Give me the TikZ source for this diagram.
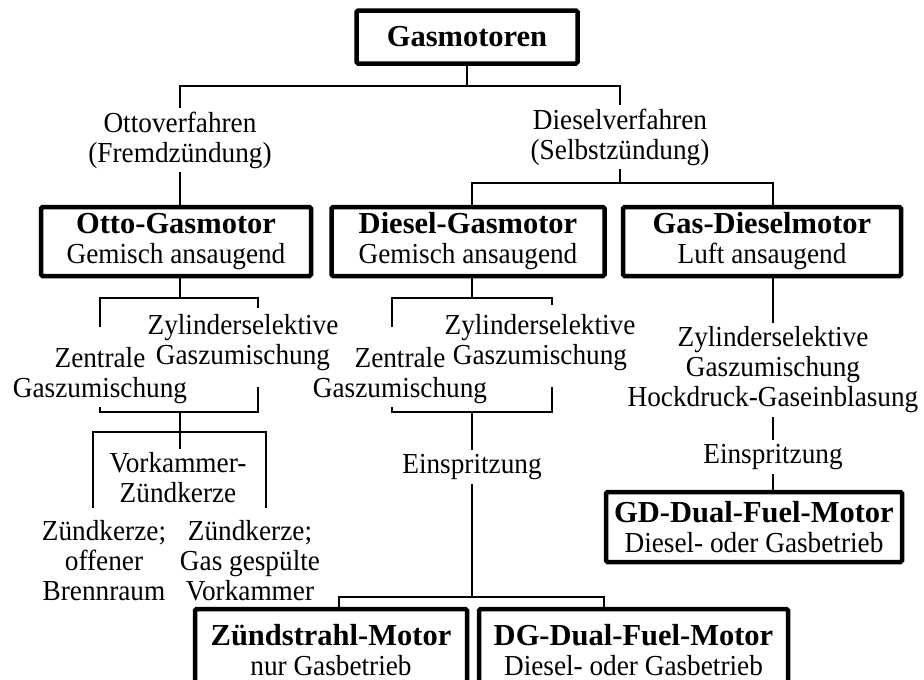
\documentclass[tikz,border=0pt]{standalone}
\usepackage{fontspec}
\setmainfont{Liberation Serif}[FakeStretch=0.94]
\newfontfamily\titelfont{Liberation Serif}
\usetikzlibrary{calc}
\tikzset{
	motor/.style={draw, line width=4.5pt, rounded corners=1.5pt, align=center, inner sep=0pt},
	verfahren/.style={align=center, inner sep=3pt},
	ast/.style={line width=2pt}
}
\newcommand{\titel}[1]{{\titelfont\fontsize{30.5}{30}\selectfont\bfseries #1}}

\begin{document}
\begin{tikzpicture}[x=1pt, y=-1pt, ast, font=\fontsize{29}{30}\selectfont]
        \useasboundingbox (0,0) rectangle (924,680);
        % Kaesten
        \node[motor, minimum width=221pt, minimum height=53pt] (gas) at (467,37) {\titel{Gasmotoren}};
        \node[motor, minimum width=270pt, minimum height=69pt] (otto) at (176,241.5) {\titel{Otto-Gasmotor}\\Gemisch ansaugend};
        \node[motor, minimum width=273pt, minimum height=69pt] (diesel) at (468,241.5) {\titel{Diesel-Gasmotor}\\Gemisch ansaugend};
        \node[motor, minimum width=278pt, minimum height=69pt] (gasdiesel) at (762,241.5) {\titel{Gas-Dieselmotor}\\Luft ansaugend};
        \node[motor, minimum width=296pt, minimum height=70pt] (gd) at (754,527) {\titel{GD-Dual-Fuel-Motor}\\Diesel- oder Gasbetrieb};
        \node[motor, minimum width=272pt, minimum height=100pt] (zs) at (331,659) {};
        \node[motor, minimum width=309pt, minimum height=100pt] (dg) at (633.5,659) {};
        \node[align=center, inner sep=0pt] (zstext) at (331,650) {\titel{Zündstrahl-Motor}\\nur Gasbetrieb};
        \node[align=center, inner sep=0pt] (dgtext) at (633.5,650) {\titel{DG-Dual-Fuel-Motor}\\Diesel- oder Gasbetrieb};
        % Texte
        \node[verfahren] (ottoverf) at (180,140) {Ottoverfahren\\(Fremdzündung)};
        \node[verfahren] (dieselverf) at (620,137) {Dieselverfahren\\(Selbstzündung)};
        \node[verfahren] (oz) at (100,376) {Zentrale\\Gaszumischung};
        \node[verfahren] (oy) at (243,343) {Zylinderselektive\\Gaszumischung};
        \node[verfahren] (dz) at (400,376) {Zentrale\\Gaszumischung};
        \node[verfahren] (dy) at (540,343) {Zylinderselektive\\Gaszumischung};
        \node[verfahren] (gy) at (773,370) {Zylinderselektive\\Gaszumischung\\Hockdruck-Gaseinblasung};
        \node[verfahren] (vk) at (178,478) {Vorkammer-\\Zündkerze};
        \node[verfahren] (zo) at (104,561) {Zündkerze;\\offener\\Brennraum};
        \node[verfahren] (zg) at (250,561) {Zündkerze;\\Gas gespülte\\Vorkammer};
        \node[verfahren] (de) at (472,467) {Einspritzung};
        \node[verfahren] (ge) at (773,457) {Einspritzung};
        % Verbindungen
        \coordinate (j0) at (467,86);
        \coordinate (j1) at (620,183);
        \draw (gas.south) -- (j0);
        \draw (ottoverf.north) |- (j0) -| (dieselverf.north);
        \draw (ottoverf.south) -- (ottoverf.south |- otto.north);
        \draw (dieselverf.south) -- (j1);
        \draw (de |- diesel.north) |- (j1) -| (gy |- gasdiesel.north);
        % Otto
        \draw (ottoverf |- otto.south) -- ++(0,20) coordinate (j2);
        \draw (j2) ++(-80,29) -- ++(0,-29) -- ++(158,0) -- ++(0,10);
        \coordinate (j3) at (180,412);
        \draw (j3) ++(-80,-5) -- ++(0,5) -- ++(158,0) -- ++(0,-25);
        \draw (j3) -- (j3 |- vk.north);
        \coordinate (j4) at (180,432);
        \draw (j4) ++(-87,76) -- ++(0,-76) -- ++(173,0) -- ++(0,76);
        % Diesel
        \draw (de |- diesel.south) -- ++(0,20) coordinate (j5);
        \draw (j5) ++(-80,29) -- ++(0,-29) -- ++(160,0) -- ++(0,7);
        \coordinate (j6) at (472,412);
        \draw (j6) ++(-80,-5) -- ++(0,5) -- ++(160,0) -- ++(0,-25);
        \draw (j6) -- (de.north);
        \coordinate (j7) at (472,597);
        \draw (de.south) -- (j7);
        \draw (j7) ++(-133,13) -- ++(0,-13) -- ++(265,0) -- ++(0,13);
        % Gas-Diesel
        \draw (gy |- gasdiesel.south) -- (gy.north);
        \draw (gy.south) -- (ge.north);
        \draw (ge.south) -- (ge |- gd.north);
\end{tikzpicture}
\end{document}
